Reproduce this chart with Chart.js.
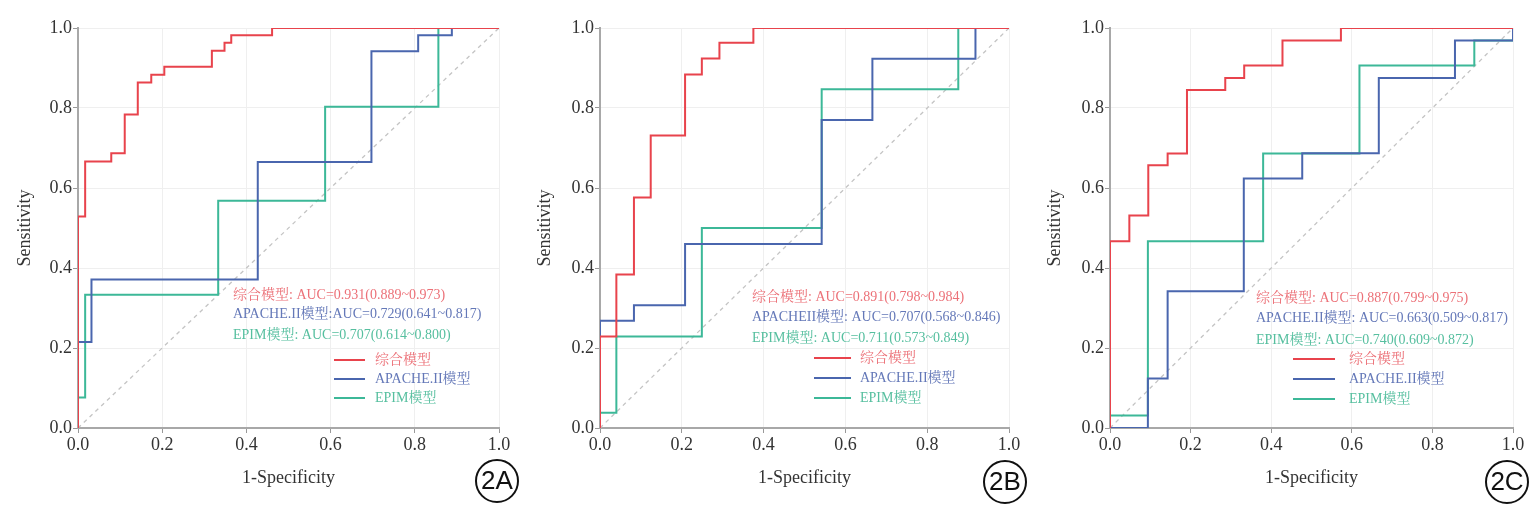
<!DOCTYPE html>
<html><head><meta charset="utf-8">
<script src="https://cdn.jsdelivr.net/npm/chart.js@4"></script>
<style>
body{margin:0;background:#fff;width:1538px;height:508px;position:relative;overflow:hidden}
.p{position:absolute;top:0;height:508px}
</style></head><body>
<div class="p" style="left:0;width:520px"><canvas id="cA"></canvas></div>
<div class="p" style="left:520px;width:510px"><canvas id="cB"></canvas></div>
<div class="p" style="left:1030px;width:508px"><canvas id="cC"></canvas></div>
<script>
const seriesNames = ['综合模型', 'APACHE.II模型', 'EPIM模型'];
const tickValues = [0, 0.2, 0.4, 0.6, 0.8, 1.0];

// panel 2A
const redA_x = [0, 0, 0.017, 0.079, 0.111, 0.142, 0.174, 0.205, 0.318, 0.348, 0.364, 0.461, 1];
const redA_y = [0, 0.529, 0.666, 0.687, 0.784, 0.864, 0.883, 0.903, 0.943, 0.963, 0.982, 1, 1];
const blueA_x = [0, 0, 0.032, 0.427, 0.697, 0.808, 0.888, 1];
const blueA_y = [0, 0.215, 0.371, 0.665, 0.942, 0.982, 1, 1];
const greenA_x = [0, 0, 0.017, 0.333, 0.587, 0.856, 1];
const greenA_y = [0, 0.076, 0.333, 0.568, 0.803, 1, 1];
const aucA = ['综合模型: AUC=0.931(0.889~0.973)', 'APACHE.II模型:AUC=0.729(0.641~0.817)', 'EPIM模型: AUC=0.707(0.614~0.800)'];

// panel 2B
const redB_x = [0, 0, 0.04, 0.083, 0.124, 0.208, 0.249, 0.292, 0.375, 1];
const redB_y = [0, 0.229, 0.384, 0.576, 0.731, 0.884, 0.924, 0.963, 1, 1];
const blueB_x = [0, 0, 0.083, 0.208, 0.542, 0.666, 0.918, 1];
const blueB_y = [0, 0.268, 0.307, 0.46, 0.77, 0.923, 1, 1];
const greenB_x = [0, 0, 0.04, 0.249, 0.542, 0.876, 1];
const greenB_y = [0, 0.038, 0.229, 0.5, 0.847, 1, 1];
const aucB = ['综合模型: AUC=0.891(0.798~0.984)', 'APACHEII模型: AUC=0.707(0.568~0.846)', 'EPIM模型: AUC=0.711(0.573~0.849)'];

// panel 2C
const redC_x = [0, 0, 0.048, 0.095, 0.143, 0.191, 0.286, 0.333, 0.428, 0.573, 1];
const redC_y = [0, 0.467, 0.531, 0.657, 0.686, 0.845, 0.875, 0.906, 0.969, 1, 1];
const blueC_x = [0, 0.094, 0.143, 0.332, 0.477, 0.667, 0.856, 1];
const blueC_y = [0, 0.124, 0.342, 0.624, 0.687, 0.875, 0.969, 1];
const greenC_x = [0, 0, 0.094, 0.38, 0.619, 0.904, 1];
const greenC_y = [0, 0.031, 0.467, 0.686, 0.906, 0.969, 1];
const aucC = ['综合模型: AUC=0.887(0.799~0.975)', 'APACHE.II模型: AUC=0.663(0.509~0.817)', 'EPIM模型: AUC=0.740(0.609~0.872)'];

const lineColors = ['#e8434c', '#4a66ae', '#3cb898'];
const textColors = ['#ec7178', '#6478b8', '#56bf9f'];
const serif = '"Liberation Serif", "Noto Serif CJK SC", serif';

const pts = (xs, ys) => xs.map((x, i) => ({ x, y: ys[i] }));

function makePanel(id, tag, series, auc, padRight, layoutPos) {
    const extras = {
        id: 'extras',
        afterDraw(chart) {
            const ctx = chart.ctx;
            ctx.save();
            ctx.font = '14px ' + serif;
            ctx.textBaseline = 'middle';
            auc.forEach((t, i) => {
                ctx.fillStyle = textColors[i];
                ctx.fillText(t, layoutPos.ax, layoutPos.ay[i]);
            });
            seriesNames.forEach((n, i) => {
                ctx.strokeStyle = lineColors[i];
                ctx.lineWidth = 2;
                ctx.beginPath();
                ctx.moveTo(layoutPos.l1, layoutPos.ly[i]);
                ctx.lineTo(layoutPos.l2, layoutPos.ly[i]);
                ctx.stroke();
                ctx.fillStyle = textColors[i];
                ctx.fillText(n, layoutPos.lt, layoutPos.ly[i]);
            });
            ctx.strokeStyle = '#111';
            ctx.lineWidth = 2;
            ctx.beginPath();
            ctx.arc(layoutPos.cx, layoutPos.cy, 21, 0, Math.PI * 2);
            ctx.stroke();
            ctx.fillStyle = '#111';
            ctx.font = '26px "Liberation Sans", Arial, sans-serif';
            ctx.textAlign = 'center';
            ctx.fillText(tag, layoutPos.cx, layoutPos.cy + 1);
            ctx.restore();
        }
    };
    const datasets = series.map((s, i) => ({
        label: seriesNames[i], data: s, borderColor: lineColors[i], borderWidth: 2,
        stepped: 'before', pointRadius: 0, fill: false, order: 1
    }));
    datasets.push({ label: 'ref', data: pts([0, 1], [0, 1]), borderColor: '#c4c4c4', borderWidth: 1.3,
        borderDash: [4, 4], pointRadius: 0, order: 2 });
    new Chart(document.getElementById(id), {
        type: 'line',
        data: { datasets },
        options: {
            responsive: true, maintainAspectRatio: false, animation: false,
            layout: { padding: { top: 28, right: padRight, left: 0, bottom: 0 } },
            plugins: { legend: { display: false }, tooltip: { enabled: false } },
            scales: {
                x: {
                    type: 'linear', min: 0, max: 1,
                    afterBuildTicks: sc => { sc.ticks = tickValues.map(v => ({ value: v })); },
                    afterFit: sc => { sc.height = 80; },
                    grid: { color: '#efefef', tickColor: '#999', tickLength: 5 },
                    border: { color: '#a8a8a8', width: 2 },
                    ticks: { color: '#333', font: { family: serif, size: 18 }, callback: v => v.toFixed(1), padding: 1 },
                    title: { display: true, text: '1-Specificity', color: '#333', font: { family: serif, size: 18 }, padding: { top: 4, bottom: 19 } }
                },
                y: {
                    type: 'linear', min: 0, max: 1,
                    afterBuildTicks: sc => { sc.ticks = tickValues.map(v => ({ value: v })); },
                    afterFit: sc => { sc.width = layoutPos.left; },
                    grid: { color: '#efefef', tickColor: '#999', tickLength: 5 },
                    border: { color: '#a8a8a8', width: 2 },
                    ticks: { color: '#333', font: { family: serif, size: 18 }, callback: v => v.toFixed(1), padding: 1 },
                    title: { display: true, text: 'Sensitivity', color: '#333', font: { family: serif, size: 18 }, padding: { top: 14, bottom: 4 } }
                }
            }
        },
        plugins: [extras]
    });
}

makePanel('cA', '2A',
    [pts(redA_x, redA_y), pts(blueA_x, blueA_y), pts(greenA_x, greenA_y)], aucA, 21,
    { left: 78, ax: 233, ay: [295, 314, 335], l1: 334, l2: 365, lt: 375, ly: [360, 379, 398], cx: 497, cy: 481 });
makePanel('cB', '2B',
    [pts(redB_x, redB_y), pts(blueB_x, blueB_y), pts(greenB_x, greenB_y)], aucB, 21,
    { left: 80, ax: 232, ay: [297, 317, 338], l1: 294, l2: 331, lt: 340, ly: [358, 378, 398], cx: 485, cy: 482 });
makePanel('cC', '2C',
    [pts(redC_x, redC_y), pts(blueC_x, blueC_y), pts(greenC_x, greenC_y)], aucC, 25,
    { left: 80, ax: 226, ay: [298, 318, 340], l1: 263, l2: 305, lt: 319, ly: [359, 379, 399], cx: 477, cy: 482 });
</script>
</body></html>
